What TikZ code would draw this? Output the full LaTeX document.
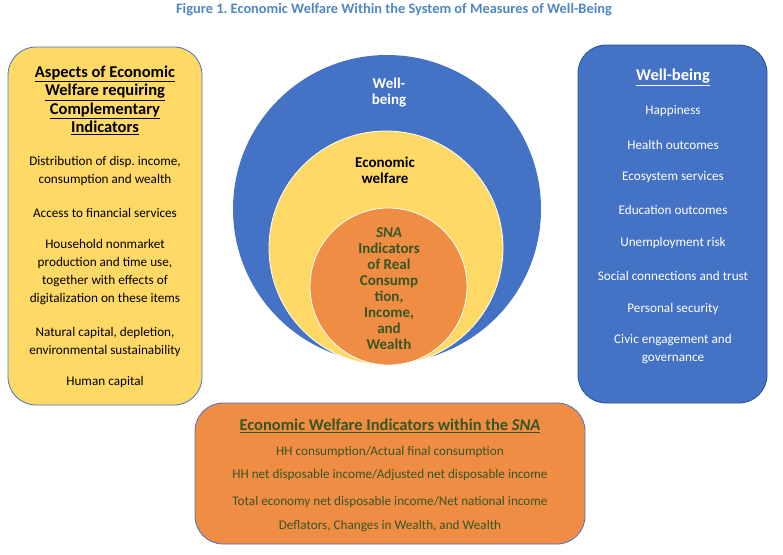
\documentclass[tikz,border=0pt]{standalone}
\usepackage{fontspec}
\setmainfont{Carlito}
\frenchspacing
\definecolor{bluefill}{HTML}{4472C4}
\definecolor{blueedge}{HTML}{2F528F}
\definecolor{yellowfill}{HTML}{FFD966}
\definecolor{orangefill}{HTML}{EF8D45}
\definecolor{darkgreen}{HTML}{375623}
\definecolor{titleblue}{HTML}{4F86C6}
\begin{document}
\frenchspacing
\begin{tikzpicture}[x=1pt,y=-1pt,
  panel/.style={rounded corners=28pt, line width=0.8pt, inner sep=0pt},
  ring/.style={circle, inner sep=0pt},
  bodytxt/.style={align=center, font=\fontsize{13.2}{18}\selectfont},
  headtxt/.style={align=center, font=\fontsize{16.5}{18.5}\selectfont\bfseries},
  circtxt/.style={align=center, font=\fontsize{15}{16}\selectfont\bfseries},
]
\useasboundingbox (0,0) rectangle (783,554);
% title
\node[font=\fontsize{14.4}{16}\selectfont\bfseries, text=titleblue] (title) at (394,10) {Figure 1. Economic Welfare Within the System of Measures of Well-Being};

% circles
\node[ring, fill=bluefill, minimum size=308pt] (cWB) at (387,209) {};
\node[ring, fill=yellowfill, draw=white, line width=0.8pt, minimum size=234pt] (cEW) at (386,248) {};
\node[ring, fill=orangefill, draw=white, line width=0.8pt, minimum size=157pt] (cSNA) at (388.5,286.5) {};
\node[circtxt, text=white] (tWB) at (389,93) {Well-\\being};
\node[circtxt, text=black] (tEW) at (385,170) {Economic\\welfare};
\node[circtxt, text=darkgreen] (tSNA) at (389,289) {\textit{SNA}\\Indicators\\of Real\\Consump\\tion,\\Income,\\and\\Wealth};

% left panel
\node[panel, fill=yellowfill, draw=bluefill, minimum width=194pt, minimum height=358pt] (left) at (105,226) {};
\node[headtxt, text=black] (lhead) at (105,100.5) {\underline{Aspects of Economic}\\\underline{Welfare requiring}\\\underline{Complementary}\\\underline{Indicators}};
\node[bodytxt] (l1) at (105,170.5) {Distribution of disp. income,\\consumption and wealth};
\node[bodytxt] (l2) at (105,212.5) {Access to financial services};
\node[bodytxt] (l3) at (105,272) {Household nonmarket\\production and time use,\\together with effects of\\digitalization on these items};
\node[bodytxt] (l4) at (105,341.5) {Natural capital, depletion,\\environmental sustainability};
\node[bodytxt] (l5) at (105,381.5) {Human capital};

% right panel
\node[panel, fill=bluefill, draw=blueedge, minimum width=189pt, minimum height=358pt] (right) at (672.5,224) {};
\node[headtxt, text=white] (rhead) at (673,77.5) {\underline{Well-being}};
\node[bodytxt, text=white] (r1) at (673,111.5) {Happiness};
\node[bodytxt, text=white] (r2) at (673,144.5) {Health outcomes};
\node[bodytxt, text=white] (r3) at (673,177.5) {Ecosystem services};
\node[bodytxt, text=white] (r4) at (673,209.5) {Education outcomes};
\node[bodytxt, text=white] (r5) at (673,242.5) {Unemployment risk};
\node[bodytxt, text=white] (r6) at (673,275.5) {Social connections and trust};
\node[bodytxt, text=white] (r7) at (673,308.5) {Personal security};
\node[bodytxt, text=white] (r8) at (673,349.5) {Civic engagement and\\governance};

% bottom panel
\node[panel, fill=orangefill, draw=bluefill, minimum width=390pt, minimum height=141pt] (bottom) at (390,473.5) {};
\node[headtxt, text=darkgreen] (bhead) at (390,425.5) {\underline{Economic Welfare Indicators within the \textit{SNA}}};
\node[bodytxt, text=darkgreen] (b1) at (390,451.5) {HH consumption/Actual final consumption};
\node[bodytxt, text=darkgreen] (b2) at (390,475.5) {HH net disposable income/Adjusted net disposable income};
\node[bodytxt, text=darkgreen] (b3) at (390,501.5) {Total economy net disposable income/Net national income};
\node[bodytxt, text=darkgreen] (b4) at (390,526.5) {Deflators, Changes in Wealth, and Wealth};
\end{tikzpicture}
\end{document}
